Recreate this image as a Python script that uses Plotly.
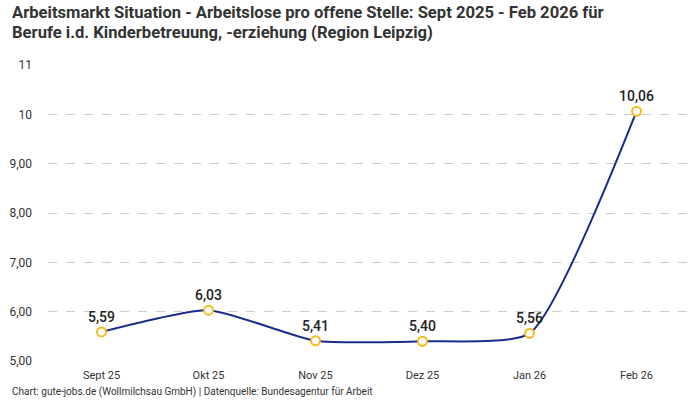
import plotly.graph_objects as go

months = ["Sept 25", "Okt 25", "Nov 25", "Dez 25", "Jan 26", "Feb 26"]
values = [5.59, 6.03, 5.41, 5.40, 5.56, 10.06]
labels = ["5,59", "6,03", "5,41", "5,40", "5,56", "10,06"]
ytick_vals = [5, 6, 7, 8, 9, 10, 11]
ytick_text = ["5,00", "6,00", "7,00", "8,00", "9,00", "10", "11"]

title_lines = ["Arbeitsmarkt Situation - Arbeitslose pro offene Stelle: Sept 2025 - Feb 2026 für",
               "Berufe i.d. Kinderbetreuung, -erziehung (Region Leipzig)"]
footer = "Chart: gute-jobs.de (Wollmilchsau GmbH) | Datenquelle: Bundesagentur für Arbeit"

W, H = 700, 400
L, R, T, B = 48, 10, 65, 39
PW, PH = W - L - R, H - T - B

fig = go.Figure()
fig.add_trace(go.Scatter(
    x=months, y=values, mode="lines+markers+text",
    line=dict(color="#1b2b8c", width=2, shape="spline", smoothing=0.55),
    marker=dict(size=9, color="white", line=dict(color="#f5bb1a", width=2)),
    text=labels, textposition="top center",
    textfont=dict(family="Roboto", size=14, color="#222222", weight=500),
    cliponaxis=False, showlegend=False,
))

annotations = []
for i, (line, yc) in enumerate(zip(title_lines, [12, 32])):
    annotations.append(dict(text="<b>" + line + "</b>", xref="paper", yref="paper",
                            x=-(L - 10) / PW, y=1 + (T - yc) / PH,
                            xanchor="left", yanchor="middle", showarrow=False,
                            font=dict(family="Roboto", size=16.6, color="#333333")))
annotations.append(dict(text=footer, xref="paper", yref="paper", x=-(L - 10) / PW,
                        y=-(392 - (H - B)) / PH, xanchor="left", yanchor="middle",
                        showarrow=False, font=dict(family="Roboto", size=10, color="#333333")))

fig.update_layout(
    width=W, height=H,
    margin=dict(l=L, r=R, t=T, b=B),
    paper_bgcolor="white", plot_bgcolor="white",
    font=dict(family="Roboto", color="#333333"),
    xaxis=dict(range=[-0.5, 5.5], showgrid=False, zeroline=False, showline=False, ticks="",
               automargin=False, ticklabelstandoff=6, tickfont=dict(size=11, color="#333333")),
    yaxis=dict(range=[5, 11], tickvals=ytick_vals, ticktext=ytick_text,
               showgrid=True, gridcolor="#cccccc", griddash="dash", gridwidth=1,
               zeroline=False, showline=False, ticks="", ticklabelstandoff=15, automargin=False,
               tickfont=dict(size=12, color="#333333")),
    annotations=annotations,
)

fig.write_html("out.html", config={"displayModeBar": False},
               post_script="document.body.style.margin='0';")
